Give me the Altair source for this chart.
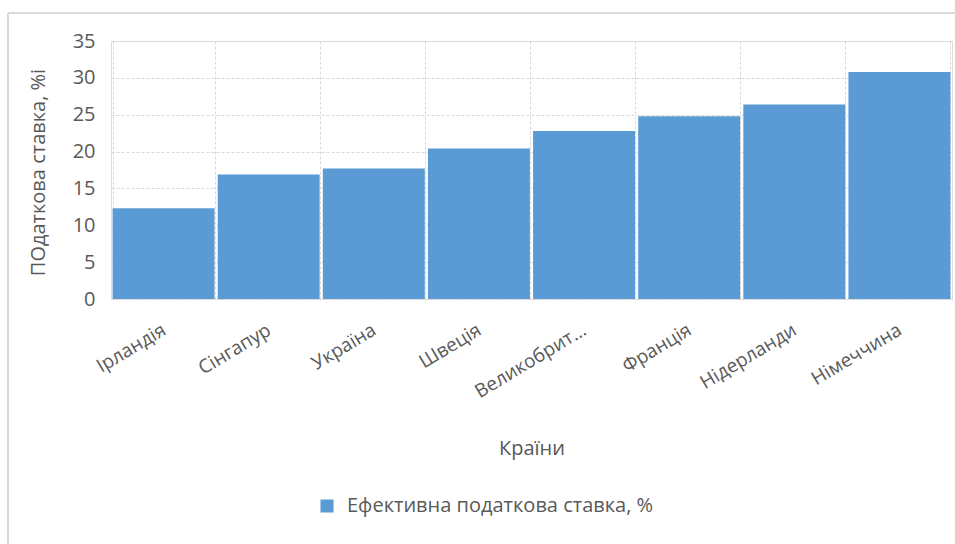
import altair as alt
import pandas as pd

# Effective tax rate by country
countries = ["Ірландія", "Сінгапур", "Україна", "Швеція", "Великобританія",
             "Франція", "Нідерланди", "Німеччина"]
rates = [12.3, 16.9, 17.7, 20.4, 22.8, 24.8, 26.4, 30.8]
series_name = "Ефективна податкова ставка, %"
y_ticks = [0, 5, 10, 15, 20, 25, 30, 35]

df = pd.DataFrame({"country": countries, "rate": rates, "series": series_name})

FONT = "Open Sans"
TEXT = "#595959"
GRID = "#d9d9d9"
BLUE = "#5b9bd5"

W, H = 841, 258
PAD_L, PAD_T = 111, 41

bars = alt.Chart(df).mark_bar(color=BLUE).encode(
    x=alt.X(
        "country:N",
        sort=countries,
        scale=alt.Scale(paddingInner=0.03, paddingOuter=0.015),
        axis=alt.Axis(
            title="Країни",
            labelAngle=-31,
            labelAlign="right",
            labelBaseline="middle",
            labelPadding=29,
            labelLimit=133,
            labelFontSize=19,
            labelColor=TEXT,
            labelFont=FONT,
            ticks=False,
            domain=False,
            grid=True,
            tickBand="extent",
            gridColor=GRID,
            gridDash=[3, 2],
            titleFontSize=20,
            titleFont=FONT,
            titleColor=TEXT,
            titleFontWeight="normal",
            titleX=W / 2,
            titleY=149,
            titleBaseline="middle",
        ),
    ),
    y=alt.Y(
        "rate:Q",
        scale=alt.Scale(domain=[0, 35], nice=False),
        axis=alt.Axis(
            title="ПОдаткова ставка, %і",
            values=y_ticks,
            labelFontSize=20,
            labelColor=TEXT,
            labelFont=FONT,
            labelPadding=16,
            ticks=False,
            domain=False,
            gridColor=GRID,
            gridDash=[3, 2],
            titleFontSize=20,
            titleFont=FONT,
            titleColor=TEXT,
            titleFontWeight="normal",
            titleX=-73,
            titleY=131,
            titleAngle=-90,
            titleAlign="center",
            titleBaseline="middle",
        ),
    ),
    fill=alt.Fill(
        "series:N",
        scale=alt.Scale(range=[BLUE]),
        legend=alt.Legend(
            title=None,
            orient="none",
            legendX=206,
            legendY=455,
            symbolType="square",
            symbolSize=170,
            symbolStrokeWidth=0,
            labelOffset=10,
            labelFontSize=20,
            labelFont=FONT,
            labelColor=TEXT,
            labelLimit=500,
            padding=0,
        ),
    ),
)

# Outer frame of the chart area
frame_left = alt.Chart(df).mark_rule(color=GRID, strokeWidth=1.5).encode(
    x=alt.value(-103), y=alt.value(-28), y2=alt.value(503)
)
frame_top = alt.Chart(df).mark_rule(color=GRID, strokeWidth=1.5).encode(
    x=alt.value(-103), x2=alt.value(850), y=alt.value(-28)
)

chart = (
    alt.layer(bars, frame_left, frame_top)
    .properties(
        width=W,
        height=H,
        autosize=alt.AutoSizeParams(type="none"),
        padding={"left": PAD_L, "top": PAD_T, "right": 955 - PAD_L - W, "bottom": 544 - PAD_T - H},
    )
    .configure_view(stroke=GRID, strokeWidth=1.5)
    .configure(background="white")
)

chart.save("out.html", embed_options={"renderer": "svg", "actions": False})
